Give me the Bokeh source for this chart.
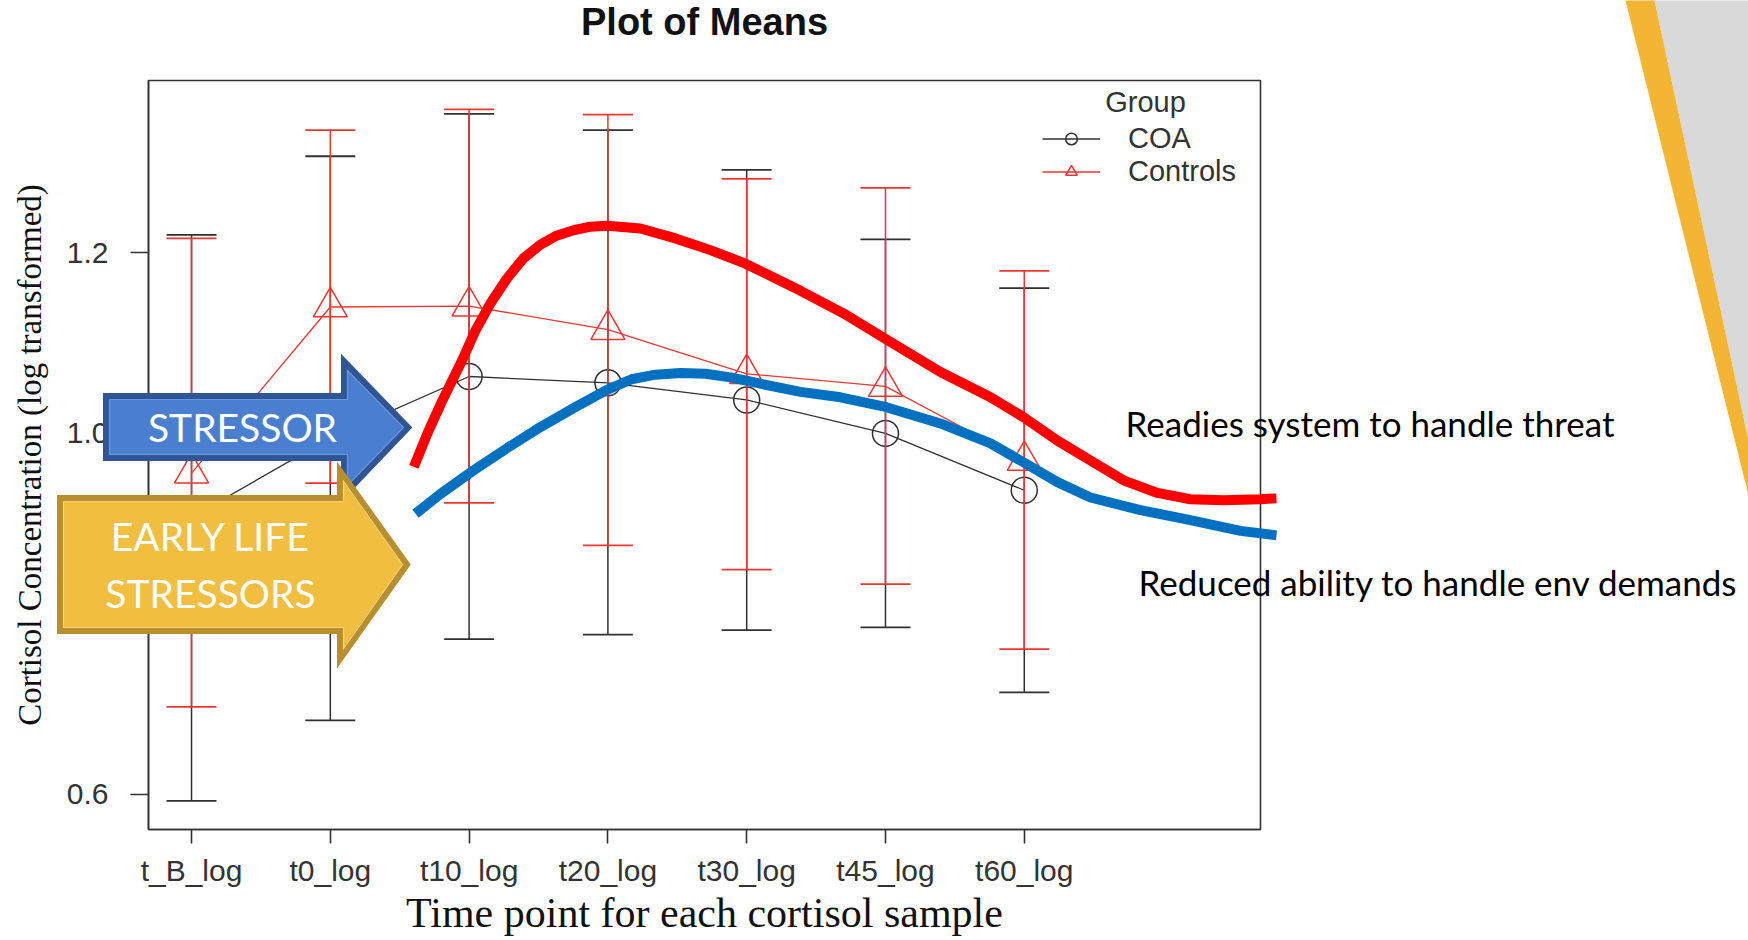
from bokeh.plotting import figure
from bokeh.models import (ColumnDataSource, Range1d, FixedTicker, Legend, LegendItem)
from bokeh.core.properties import value
from bokeh.embed import file_html
from bokeh.resources import INLINE

# ---------------- data ----------------
categories = ["t_B_log", "t0_log", "t10_log", "t20_log", "t30_log", "t45_log", "t60_log"]
x_pos = [1, 2, 3, 4, 5, 6, 7]

coa_mean = [0.907, 0.995, 1.063, 1.056, 1.037, 1.000, 0.937]
coa_upper = [1.220, 1.307, 1.354, 1.336, 1.292, 1.215, 1.161]
coa_lower = [0.593, 0.682, 0.772, 0.777, 0.782, 0.785, 0.713]

ctl_mean = [0.956, 1.140, 1.141, 1.115, 1.066, 1.052, 0.970]
ctl_upper = [1.216, 1.336, 1.359, 1.353, 1.282, 1.272, 1.180]
ctl_lower = [0.697, 0.945, 0.923, 0.876, 0.849, 0.833, 0.761]

y_ticks = [0.6, 0.8, 1.0, 1.2]
y_tick_labels = ["0.6", "0.8", "1.0", "1.2"]

# hand-drawn overlay curves (traced, in chart units)
red_curve_x = [2.602, 2.700, 2.806, 2.950, 3.046, 3.154, 3.275, 3.392, 3.514, 3.630,
               3.752, 3.875, 3.995, 4.235, 4.487, 4.739, 4.991, 5.337, 5.697, 6.007,
               6.396, 6.757, 6.994, 7.239, 7.477, 7.715, 7.960, 8.197, 8.435, 8.695, 8.817]
red_curve_y = [0.963, 1.000, 1.036, 1.081, 1.114, 1.144, 1.172, 1.194, 1.209, 1.219,
               1.225, 1.229, 1.230, 1.227, 1.216, 1.203, 1.188, 1.162, 1.133, 1.104,
               1.068, 1.040, 1.018, 0.992, 0.970, 0.948, 0.934, 0.927, 0.926, 0.927, 0.928]

blue_curve_x = [2.614, 2.794, 3.032, 3.277, 3.514, 3.752, 3.990, 4.170, 4.343, 4.523,
                4.703, 4.883, 5.099, 5.388, 5.676, 6.007, 6.396, 6.757, 6.994, 7.239,
                7.477, 7.837, 8.197, 8.558, 8.817]
blue_curve_y = [0.911, 0.933, 0.959, 0.984, 1.007, 1.028, 1.048, 1.060, 1.065, 1.067,
                1.066, 1.062, 1.055, 1.046, 1.040, 1.029, 1.011, 0.989, 0.968, 0.946,
                0.929, 0.915, 0.904, 0.892, 0.887]

title_text = "Plot of Means"
stressor_text = "STRESSOR"
early_text = ["EARLY LIFE", "STRESSORS"]
annotation_top = "Readies system to handle threat"
annotation_bottom = "Reduced ability to handle env demands"

# ---------------- layout / style ----------------
W, H = 1748, 940
FL, FR, FT, FB = 148, 1260, 80, 829
X_RANGE = (0.690, 8.702)
Y_RANGE = (0.5612, 1.3909)
CAP = 0.18

BLACK = "#303030"
RED = "#EE3535"


def dx(px):
    return X_RANGE[0] + (px - FL) * (X_RANGE[1] - X_RANGE[0]) / (FR - FL)


def dy(py):
    return Y_RANGE[1] - (py - FT) * (Y_RANGE[1] - Y_RANGE[0]) / (FB - FT)


p = figure(width=W, height=H, x_range=Range1d(*X_RANGE), y_range=Range1d(*Y_RANGE),
           output_backend="svg", toolbar_location=None,
           min_border_left=FL, min_border_right=W - FR, min_border_top=FT, min_border_bottom=H - FB,
           background_fill_color="white", border_fill_color="white",
           outline_line_color="#333333", outline_line_width=1.6)

p.xgrid.visible = False
p.ygrid.visible = False

xa = p.xaxis[0]
xa.ticker = FixedTicker(ticks=x_pos)
xa.major_label_overrides = {x: c for x, c in zip(x_pos, categories)}
xa.axis_label = "Time point for each cortisol sample"
xa.major_tick_out = 14
xa.major_tick_in = 0
xa.major_label_standoff = 10
xa.axis_label_standoff = 0

ya = p.yaxis[0]
ya.ticker = FixedTicker(ticks=y_ticks)
ya.major_label_overrides = {t: s for t, s in zip(y_ticks, y_tick_labels)}
ya.axis_label = "Cortisol Concentration (log transformed)"
ya.major_tick_out = 18
ya.major_tick_in = 0
ya.major_label_standoff = 22
ya.axis_label_standoff = 16

for ax, lab_size in ((xa, "42px"), (ya, "33px")):
    ax.minor_tick_line_color = None
    ax.axis_line_color = "#333333"
    ax.axis_line_width = 1.6
    ax.major_tick_line_color = "#333333"
    ax.major_tick_line_width = 1.6
    ax.major_label_text_font = "Liberation Sans"
    ax.major_label_text_font_size = "30px"
    ax.major_label_text_color = "#333333"
    ax.axis_label_text_font = "Liberation Serif"
    ax.axis_label_text_font_size = lab_size
    ax.axis_label_text_font_style = "normal"
    ax.axis_label_text_color = "#111111"


def overlay_text(px, py, txt, font, size, color, align="center", baseline="middle", style="normal"):
    p.text(x=[dx(px)], y=[dy(py)], text=[txt], text_font=value(font), text_font_size=size,
           text_color=color, text_align=align, text_baseline=baseline, text_font_style=style,
           level="overlay")


def overlay_patch(points, **kw):
    p.patch([dx(a) for a, b in points], [dy(b) for a, b in points], level="overlay", **kw)


def overlay_outline(points, **kw):
    pts = points + points[:1]
    p.line([dx(a) for a, b in pts], [dy(b) for a, b in pts], level="overlay", **kw)


# title (above the frame)
overlay_text(704, 21, title_text, "Liberation Sans", "38px", "#111111", style="bold")

# ---------------- R plot of means ----------------
def series(mean, upper, lower, color, marker, size):
    src = ColumnDataSource(dict(x=x_pos, mean=mean, upper=upper, lower=lower,
                                cl=[x - CAP for x in x_pos], cr=[x + CAP for x in x_pos]))
    p.segment(x0="x", y0="lower", x1="x", y1="upper", source=src, line_color=color, line_width=1.5)
    p.segment(x0="cl", y0="upper", x1="cr", y1="upper", source=src, line_color=color, line_width=1.8)
    p.segment(x0="cl", y0="lower", x1="cr", y1="lower", source=src, line_color=color, line_width=1.8)
    ln = p.line("x", "mean", source=src, line_color=color, line_width=1.3)
    pts = p.scatter("x", "mean", source=src, marker=marker, size=size, fill_color=None,
                    line_color=color, line_width=1.5)
    return ln, pts


coa_line, coa_pts = series(coa_mean, coa_upper, coa_lower, BLACK, "circle", 26)
ctl_line, ctl_pts = series(ctl_mean, ctl_upper, ctl_lower, RED, "triangle", 34)

legend = Legend(items=[LegendItem(label="COA", renderers=[coa_line, coa_pts]),
                       LegendItem(label="Controls", renderers=[ctl_line, ctl_pts])],
                location=(1042 - FL, 641), glyph_width=58, glyph_height=29,
                label_height=29, label_standoff=28, spacing=0, padding=0, margin=0,
                label_text_font="Liberation Sans", label_text_font_size="29px",
                label_text_color="#333333", border_line_color=None, background_fill_alpha=0)
p.add_layout(legend)
overlay_text(1145, 101, "Group", "Liberation Sans", "29px", "#333333")

# ---------------- slide overlays ----------------
# decorative slide corner
overlay_patch([(1654, 0), (1748, 0), (1748, 440)], fill_color="#D9D9D9", line_color=None)
overlay_patch([(1625, 0), (1654, 0), (1748, 440), (1748, 495)], fill_color="#F4B534", line_color=None)

# STRESSOR arrow
stressor_shape = [(106, 396), (344, 396), (344, 362), (407, 427), (344, 493), (344, 457), (106, 457)]
stressor_inner = [(109, 399), (347, 399), (347, 370), (403, 427), (347, 485), (347, 454), (109, 454)]
overlay_patch(stressor_shape, fill_color="#4A7FD0", line_color="#2F5597", line_width=7, line_join="miter")
overlay_outline(stressor_inner, line_color="#6A98DC", line_width=1.2, line_join="miter")
overlay_text(242, 426, stressor_text, "Lato", "39px", "white")

# EARLY LIFE STRESSORS arrow
early_shape = [(60, 498), (340, 498), (340, 472), (406, 564), (340, 657), (340, 630), (60, 630)]
early_inner = [(63, 501), (343, 501), (343, 481), (402, 564), (343, 648), (343, 627), (63, 627)]
overlay_patch(early_shape, fill_color="#F2BE40", line_color="#B78F2E", line_width=7, line_join="miter")
overlay_outline(early_inner, line_color="#F6D27A", line_width=1.2, line_join="miter")
overlay_text(210, 535, early_text[0], "Lato", "39px", "white")
overlay_text(210, 592, early_text[1], "Lato", "39px", "white")

# hand-drawn response curves
p.line(red_curve_x, red_curve_y, line_color="#FF0000", line_width=10, line_join="round",
       line_cap="butt", level="overlay")
p.line(blue_curve_x, blue_curve_y, line_color="#0070C0", line_width=10, line_join="round",
       line_cap="butt", level="overlay")

overlay_text(1125, 422, annotation_top, "Lato", "35px", "black", align="left")
overlay_text(1138, 581, annotation_bottom, "Lato", "35px", "black", align="left")

open("out.html", "w").write(file_html(p, INLINE))
